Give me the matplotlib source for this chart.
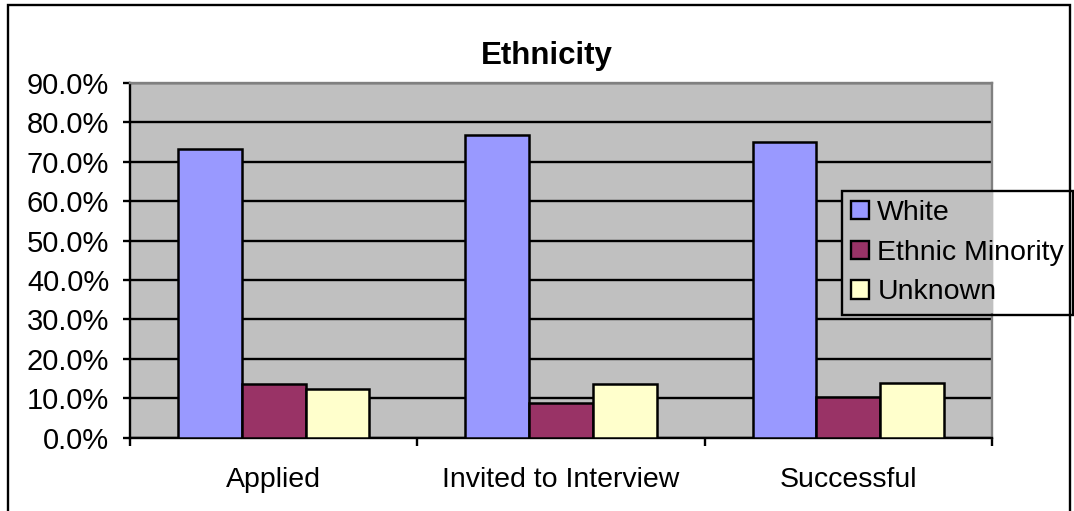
import matplotlib
matplotlib.use("Agg")
import matplotlib.pyplot as plt
from matplotlib.patches import Rectangle
from matplotlib.ticker import PercentFormatter
import numpy as np

categories = ["Applied", "Invited to Interview", "Successful"]
series_names = ["White", "Ethnic Minority", "Unknown"]
white = [73.3, 76.9, 75.1]
ethnic_minority = [13.6, 8.9, 10.4]
unknown = [12.4, 13.6, 14.0]
series_values = [white, ethnic_minority, unknown]
colors = ["#9999FF", "#993366", "#FFFFCC"]
y_ticks = [0, 10, 20, 30, 40, 50, 60, 70, 80, 90]
plot_bg = "#C0C0C0"

plt.rcParams["font.family"] = ["Liberation Sans", "DejaVu Sans"]

W, H = 1074, 511
fig = plt.figure(figsize=(W / 100, H / 100), dpi=100)
ax = fig.add_axes([130 / W, 1 - 437.7 / H, (992 - 130) / W, (437.7 - 83.1) / H])
ax.set_facecolor(plot_bg)

x = np.arange(len(categories))
bw = 0.222
for i, (name, vals, col) in enumerate(zip(series_names, series_values, colors)):
    ax.bar(x + (i - 1) * bw, vals, width=bw, color=col, edgecolor="black",
           linewidth=1.8, label=name, zorder=3)

ax.set_xlim(-0.5, len(categories) - 0.5)
ax.set_ylim(0, 90)
ax.set_yticks(y_ticks)
ax.yaxis.set_major_formatter(PercentFormatter(decimals=1))
ax.yaxis.grid(True, color="black", linewidth=1.7, zorder=1)
ax.set_axisbelow(True)

ax.set_xticks(x)
ax.set_xticklabels(categories, fontsize=20.5)
ax.tick_params(axis="x", which="major", length=0, pad=21)
ax.set_xticks(np.arange(len(categories) + 1) - 0.5, minor=True)
ax.tick_params(axis="x", which="minor", length=6, width=1.7, direction="out")
ax.tick_params(axis="y", length=5, width=1.7, direction="out", labelsize=21, pad=10)

for side in ["top", "right"]:
    ax.spines[side].set_color("#808080")
    ax.spines[side].set_linewidth(1.7)
for side in ["left", "bottom"]:
    ax.spines[side].set_color("black")
    ax.spines[side].set_linewidth(1.7)

fig.text(547 / W, 1 - 56 / H, "Ethnicity", ha="center", va="center",
         fontsize=22.5, fontweight="bold")

# legend box: transparent, but gridlines do not show through it
leg_left, leg_top, leg_bottom = 842, 191, 313
fig.add_artist(Rectangle((leg_left / W, 1 - leg_bottom / H), (993 - leg_left) / W,
                         (leg_bottom - leg_top) / H, transform=fig.transFigure,
                         facecolor=plot_bg, edgecolor="none", zorder=1))

leg = fig.legend(loc="upper left", bbox_to_anchor=(leg_left / W, 1 - leg_top / H),
                 fontsize=20.5, frameon=True, fancybox=False, framealpha=1,
                 handlelength=0.62, handleheight=0.62, handletextpad=0.3,
                 labelspacing=0.48, borderpad=0.32, borderaxespad=0,
                 edgecolor="black")
leg.get_frame().set_facecolor("none")
leg.get_frame().set_linewidth(1.7)
leg.set_zorder(5)
for h in leg.legend_handles:
    h.set_linewidth(1.7)

fig.add_artist(Rectangle((8 / W, -0.05), (1070 - 8) / W, 1 - 5 / H + 0.05,
                         transform=fig.transFigure, fill=False,
                         edgecolor="black", linewidth=1.7))

fig.savefig("out.png", dpi=100)
